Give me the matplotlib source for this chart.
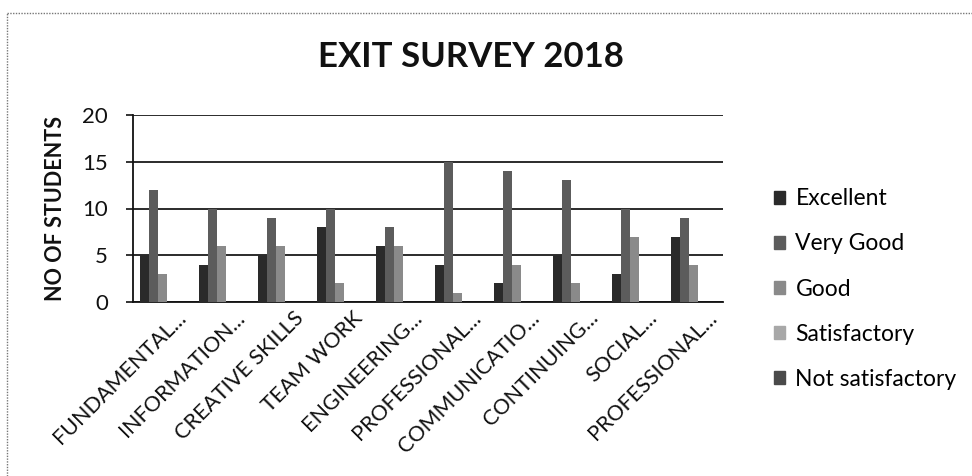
import matplotlib
matplotlib.use("Agg")
import matplotlib.pyplot as plt
import matplotlib.transforms as mtransforms
import numpy as np
from matplotlib.lines import Line2D

categories = ["FUNDAMENTAL...", "INFORMATION...", "CREATIVE SKILLS", "TEAM WORK",
              "ENGINEERING...", "PROFESSIONAL...", "COMMUNICATIO...", "CONTINUING...",
              "SOCIAL...", "PROFESSIONAL..."]
series_names = ["Excellent", "Very Good", "Good", "Satisfactory", "Not satisfactory"]
excellent = [5, 4, 5, 8, 6, 4, 2, 5, 3, 7]
very_good = [12, 10, 9, 10, 8, 15, 14, 13, 10, 9]
good = [3, 6, 6, 2, 6, 1, 4, 2, 7, 4]
satisfactory = [0, 0, 0, 0, 0, 0, 0, 0, 0, 0]
not_satisfactory = [0, 0, 0, 0, 0, 0, 0, 0, 0, 0]
y_ticks = [0, 5, 10, 15, 20]

series = [excellent, very_good, good, satisfactory, not_satisfactory]
colors = ["#2a2a2a", "#5c5c5c", "#8a8a8a", "#a8a8a8", "#4a4a4a"]

plt.rcParams['font.family'] = ['Lato', 'DejaVu Sans']

W, H = 972, 476
fig = plt.figure(figsize=(W / 100, H / 100), dpi=100)
ax = fig.add_axes([133 / W, (H - 302) / H, 590 / W, (302 - 115) / H])

x = np.arange(len(categories))
n = len(series)
bw = 0.155
for i, (vals, c, name) in enumerate(zip(series, colors, series_names)):
    ax.bar(x + (i - (n - 1) / 2) * bw, vals, width=bw, color=c, label=name,
           edgecolor='none', zorder=3)

ax.set_xlim(-0.5, len(categories) - 0.5)
ax.set_ylim(0, 20)
ax.set_yticks(y_ticks)
ax.yaxis.grid(True, color='#1a1a1a', linewidth=1.3, zorder=1)
ax.set_axisbelow(True)
for s in ['top', 'right']:
    ax.spines[s].set_visible(False)
ax.spines['left'].set_color('#111')
ax.spines['left'].set_linewidth(1.3)
ax.spines['bottom'].set_color('#111')
ax.spines['bottom'].set_linewidth(1.3)
ax.tick_params(axis='y', length=5, width=1.2, pad=13, labelsize=16, colors='#111')
ax.tick_params(axis='x', length=0, pad=4, labelsize=15.5, colors='#111')

ax.set_xticks(x)
ax.set_xticklabels(categories, rotation=45, ha='right', va='top', rotation_mode='anchor')
offset = mtransforms.ScaledTranslation(13 / 100, 0, fig.dpi_scale_trans)
for lab in ax.get_xticklabels():
    lab.set_transform(lab.get_transform() + offset)

ax.set_ylabel("NO OF STUDENTS", fontsize=15.5, fontweight='bold', color='#111', labelpad=12)

fig.text(471 / W, 1 - 57 / H, "EXIT SURVEY 2018", ha='center', va='center',
         fontsize=25, fontweight='bold', color='#111')

handles = [plt.Rectangle((0, 0), 1, 1, color=c) for c in colors]
fig.legend(handles, series_names, loc='center left', bbox_to_anchor=(753 / W, 1 - 289 / H),
           frameon=False, fontsize=16.5, handlelength=0.5, handleheight=0.5,
           handletextpad=0.45, labelspacing=1.05)

# chart border (dotted, left and top visible)
fig.add_artist(Line2D([7 / W, 7 / W], [0, 1 - 13 / H], transform=fig.transFigure,
                      color='#777', linewidth=1, linestyle=(0, (1, 1))))
fig.add_artist(Line2D([7 / W, 1], [1 - 13 / H, 1 - 13 / H], transform=fig.transFigure,
                      color='#777', linewidth=1, linestyle=(0, (1, 1))))

fig.savefig("out.png", dpi=100)
